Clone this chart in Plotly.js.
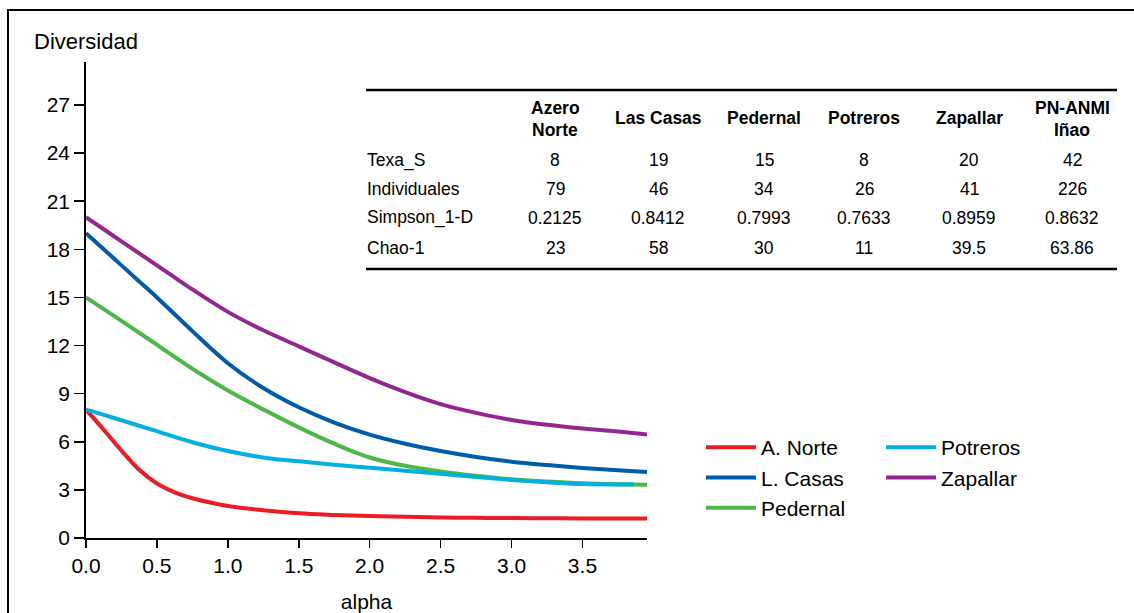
<!DOCTYPE html>
<html><head><meta charset="utf-8">
<script src="https://cdn.plot.ly/plotly-3.0.1.min.js"></script>
<style>html,body{margin:0;padding:0;background:#fff;}#chart{width:1134px;height:613px;}</style>
</head><body><div id="chart"></div>
<script>
// ---- data ----
const alpha = [0, 0.125, 0.25, 0.375, 0.5, 0.625, 0.75, 1.0, 1.25, 1.5, 1.75, 2.0, 2.25, 2.5, 2.75, 3.0, 3.25, 3.5, 3.75, 3.955];
const alphaPotreros = [0, 0.125, 0.25, 0.375, 0.5, 0.625, 0.75, 1.0, 1.25, 1.5, 1.75, 2.0, 2.25, 2.5, 2.75, 3.0, 3.25, 3.5, 3.75, 3.86];
const aNorte   = [8.0, 6.75, 5.45, 4.25, 3.4, 2.85, 2.48, 2.0, 1.73, 1.54, 1.44, 1.37, 1.32, 1.28, 1.26, 1.24, 1.23, 1.22, 1.22, 1.22];
const lCasas   = [19.0, 18.0, 17.0, 16.0, 15.0, 13.95, 12.9, 10.9, 9.35, 8.15, 7.2, 6.45, 5.88, 5.42, 5.05, 4.76, 4.55, 4.37, 4.23, 4.12];
const pedernal = [15.0, 14.27, 13.54, 12.8, 12.05, 11.29, 10.55, 9.2, 8.02, 6.9, 5.88, 5.02, 4.5, 4.15, 3.88, 3.66, 3.52, 3.41, 3.35, 3.32];
const potreros = [8.0, 7.68, 7.34, 7.0, 6.66, 6.3, 5.97, 5.42, 5.02, 4.78, 4.57, 4.38, 4.2, 4.0, 3.8, 3.62, 3.47, 3.36, 3.34, 3.35];
const zapallar = [20.0, 19.25, 18.5, 17.75, 17.0, 16.25, 15.5, 14.1, 12.95, 11.95, 10.95, 9.97, 9.1, 8.35, 7.8, 7.36, 7.06, 6.83, 6.64, 6.46];

const seriesNames = ["A. Norte", "L. Casas", "Pedernal", "Potreros", "Zapallar"];
const seriesColors = ["#ED1C24", "#005BAA", "#4DB848", "#00B0E0", "#92278F"];

const yTicks = [0, 3, 6, 9, 12, 15, 18, 21, 24, 27];
const xTicks = [0, 0.5, 1.0, 1.5, 2.0, 2.5, 3.0, 3.5];

// table
const tableSites = [["Azero", "Norte"], ["Las Casas"], ["Pedernal"], ["Potreros"], ["Zapallar"], ["PN-ANMI", "Iñao"]];
const tableRows = ["Texa_S", "Individuales", "Simpson_1-D", "Chao-1"];
const texaS = ["8", "19", "15", "8", "20", "42"];
const individuales = ["79", "46", "34", "26", "41", "226"];
const simpson = ["0.2125", "0.8412", "0.7993", "0.7633", "0.8959", "0.8632"];
const chao1 = ["23", "58", "30", "11", "39.5", "63.86"];

// ---- layout helpers (pixel -> paper) ----
const W = 1134, H = 613, L = 86, R = 487, T = 62, B = 75;
const PW = W - L - R, PH = H - T - B;
const px = x => (x - L) / PW;
const py = y => (H - B - y) / PH;

const FONT = "Liberation Sans, Arial, Helvetica, sans-serif";
const TFONT = "Liberation Sans, Arial, Helvetica, sans-serif";

const ys = [aNorte, lCasas, pedernal, potreros, zapallar];
const traces = ys.map((y, i) => ({
  type: "scatter", mode: "lines",
  x: i === 3 ? alphaPotreros : alpha, y: y,
  name: seriesNames[i],
  line: {color: seriesColors[i], width: 4, shape: "spline", smoothing: 1},
  legend: i < 3 ? "legend" : "legend2"
}));

const annotations = [];
annotations.push({xref: "paper", yref: "paper", x: px(32), y: py(42), xanchor: "left", yanchor: "middle",
  text: "Diversidad", showarrow: false, font: {family: FONT, size: 22, color: "#000"}});

const colX = [555, 658, 764, 864, 969, 1072];
const headFont = {family: TFONT, size: 17.5, color: "#000", weight: 700};
const bodyFont = {family: TFONT, size: 17.5, color: "#000"};
tableSites.forEach((lines, i) => {
  if (lines.length === 2) {
    annotations.push({xref: "paper", yref: "paper", x: px(colX[i]), y: py(108), xanchor: "center", yanchor: "middle",
      text: "<b>" + lines[0] + "</b>", showarrow: false, font: headFont});
    annotations.push({xref: "paper", yref: "paper", x: px(colX[i]), y: py(130), xanchor: "center", yanchor: "middle",
      text: "<b>" + lines[1] + "</b>", showarrow: false, font: headFont});
  } else {
    annotations.push({xref: "paper", yref: "paper", x: px(colX[i]), y: py(118), xanchor: "center", yanchor: "middle",
      text: "<b>" + lines[0] + "</b>", showarrow: false, font: headFont});
  }
});
const rowY = [160, 189, 218, 248];
const rowVals = [texaS, individuales, simpson, chao1];
tableRows.forEach((lab, r) => {
  annotations.push({xref: "paper", yref: "paper", x: px(365), y: py(rowY[r]), xanchor: "left", yanchor: "middle",
    text: lab, showarrow: false, font: bodyFont});
  rowVals[r].forEach((v, c) => {
    annotations.push({xref: "paper", yref: "paper", x: px(colX[c]), y: py(rowY[r]), xanchor: "center", yanchor: "middle",
      text: v, showarrow: false, font: bodyFont});
  });
});

const shapes = [
  {type: "rect", xref: "paper", yref: "paper", x0: px(8), x1: px(1145), y0: py(10), y1: py(625),
   line: {color: "#000", width: 2}, fillcolor: "rgba(0,0,0,0)", layer: "below"},
  {type: "line", xref: "paper", yref: "paper", x0: px(366), x1: px(1117), y0: py(90), y1: py(90), line: {color: "#000", width: 2.5}},
  {type: "line", xref: "paper", yref: "paper", x0: px(366), x1: px(1117), y0: py(269), y1: py(269), line: {color: "#000", width: 2.5}}
];

const legendBase = {xanchor: "left", yanchor: "top", font: {family: FONT, size: 21, color: "#000"},
  bgcolor: "rgba(0,0,0,0)", borderwidth: 0, itemwidth: 50, tracegroupgap: 0, traceorder: "normal"};

const layout = {
  width: W, height: H,
  margin: {l: L, r: R, t: T, b: B, pad: 0},
  paper_bgcolor: "#fff", plot_bgcolor: "#fff",
  font: {family: FONT, size: 21, color: "#000"},
  showlegend: true,
  legend: Object.assign({}, legendBase, {x: px(701), y: py(427)}),
  legend2: Object.assign({}, legendBase, {x: px(881), y: py(427)}),
  xaxis: {
    range: [0, 3.955], tickvals: xTicks, ticktext: xTicks.map(v => v.toFixed(1)),
    showgrid: false, zeroline: false, showline: true, linecolor: "#000", linewidth: 1.8,
    ticks: "outside", ticklen: 8, tickwidth: 1.5, tickcolor: "#000",
    tickfont: {family: FONT, size: 21, color: "#000"},
    title: {text: "alpha", font: {family: FONT, size: 21, color: "#000"}, standoff: 22},
    automargin: false, fixedrange: true
  },
  yaxis: {
    range: [0, 29.68], tickvals: yTicks, ticktext: yTicks.map(String),
    showgrid: false, zeroline: false, showline: true, linecolor: "#000", linewidth: 1.8,
    ticks: "outside", ticklen: 10, tickwidth: 1.5, tickcolor: "#000",
    tickfont: {family: FONT, size: 21, color: "#000"},
    automargin: false, fixedrange: true
  },
  annotations: annotations,
  shapes: shapes
};

Plotly.newPlot("chart", traces, layout, {displayModeBar: false, staticPlot: true});
</script>
</body></html>
